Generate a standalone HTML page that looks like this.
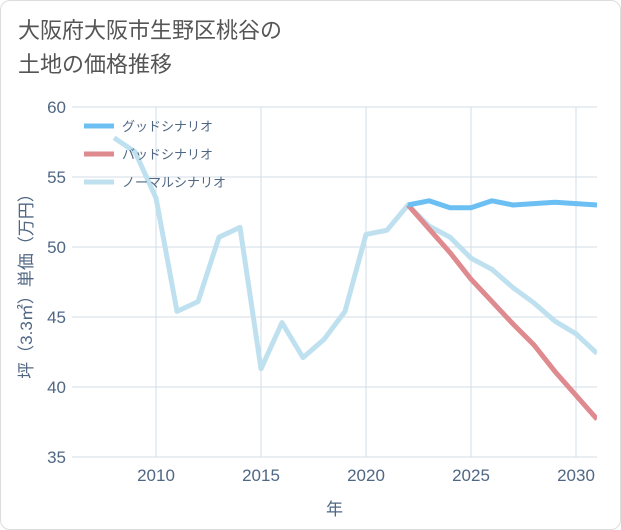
<!DOCTYPE html>
<html><head><meta charset="utf-8">
<style>
body{margin:0;background:#fff;font-family:"Liberation Sans","Noto Sans CJK JP",sans-serif;}
#card{position:absolute;left:0;top:0;width:619px;height:528px;border:1px solid #ddd;border-radius:10px;background:#fff;}
#title{position:absolute;left:18px;top:14px;font-size:22px;line-height:34px;color:#555;font-family:"Liberation Sans","Noto Sans CJK JP",sans-serif;}
svg{position:absolute;left:0;top:0;}
</style></head><body>
<div id="card"></div>
<div id="title">大阪府大阪市生野区桃谷の<br>土地の価格推移</div>
<svg id="chart" width="621" height="530"></svg>
<script>
const years=[2008,2009,2010,2011,2012,2013,2014,2015,2016,2017,2018,2019,2020,2021,2022,2023,2024,2025,2026,2027,2028,2029,2030,2031];
const normalValues=[57.8,56.8,53.5,45.4,46.1,50.7,51.4,41.3,44.6,42.1,43.4,45.4,50.9,51.2,53.0,51.5,50.7,49.2,48.4,47.1,46.0,44.7,43.8,42.4];
const futureYears=[2022,2023,2024,2025,2026,2027,2028,2029,2030,2031];
const goodValues=[53.0,53.3,52.8,52.8,53.3,53.0,53.1,53.2,53.1,53.0];
const badValues=[53.0,51.3,49.6,47.7,46.1,44.5,43.0,41.1,39.4,37.7];
const xTicks=[2010,2015,2020,2025,2030];
const yTicks=[35,40,45,50,55,60];
const legendLabels=["グッドシナリオ","バッドシナリオ","ノーマルシナリオ"];
const NS="http://www.w3.org/2000/svg";
const L=72,R=597,T=107,B=457,X0=2006,X1=2031,Y0=35,Y1=60;
const xs=v=>L+(v-X0)/(X1-X0)*(R-L);
const ys=v=>B-(v-Y0)/(Y1-Y0)*(B-T);
const svg=document.getElementById('chart');
function mk(t,a){const e=document.createElementNS(NS,t);for(const k in a)e.setAttribute(k,a[k]);svg.appendChild(e);return e;}
const clip=mk('clipPath',{id:'cp'});
const cr=document.createElementNS(NS,'rect');cr.setAttribute('x',L);cr.setAttribute('y',T);cr.setAttribute('width',R-L);cr.setAttribute('height',B-T);clip.appendChild(cr);
yTicks.forEach(v=>{
 const g=mk('line',{x1:L,x2:R,y1:ys(v),y2:ys(v),stroke:'#d3dce6','stroke-width':1});
 
 
 const t=mk('text',{x:L-6,y:ys(v)+6,'text-anchor':'end','font-size':17,fill:'#506784'});
 t.textContent=v;
 
 
});
xTicks.forEach(v=>{
 const g=mk('line',{x1:xs(v),x2:xs(v),y1:T,y2:B,stroke:'#d3dce6','stroke-width':1});
 
 
 const t=mk('text',{x:xs(v),y:B+24,'text-anchor':'middle','font-size':17,fill:'#506784'});
 t.textContent=v;
 
 
});
const xt=mk('text',{x:(L+R)/2,y:515,'text-anchor':'middle','font-size':17,fill:'#506784'});
xt.textContent='年';


const yt=mk('text',{x:0,y:0,'text-anchor':'middle','font-size':17,fill:'#506784',transform:'translate(32,'+((T+B)/2)+') rotate(-90)'});
yt.textContent='坪（3.3㎡）単価（万円）';


function line(xv,yv,color,name){
 const p=mk('polyline',{points:xv.map((x,i)=>xs(x)+','+ys(yv[i])).join(' '),fill:'none',stroke:color,'stroke-width':5,'stroke-linejoin':'round','clip-path':'url(#cp)'});
 
 
}
line(years,normalValues,'#bfe1ef','normal-scenario-line');
line(futureYears,badValues,'#de8a8f','bad-scenario-line');
line(futureYears,goodValues,'#6cbff2','good-scenario-line');
const colors=['#6cbff2','#de8a8f','#bfe1ef'];
legendLabels.forEach((lab,i)=>{
 const y=126+i*28;
 const l=mk('line',{x1:84,x2:114,y1:y,y2:y,stroke:colors[i],'stroke-width':5});
 
 
 const t=mk('text',{x:122,y:y+5,'font-size':13,fill:'#506784'});
 t.textContent=lab;
 
 
});
</script>
</body></html>
